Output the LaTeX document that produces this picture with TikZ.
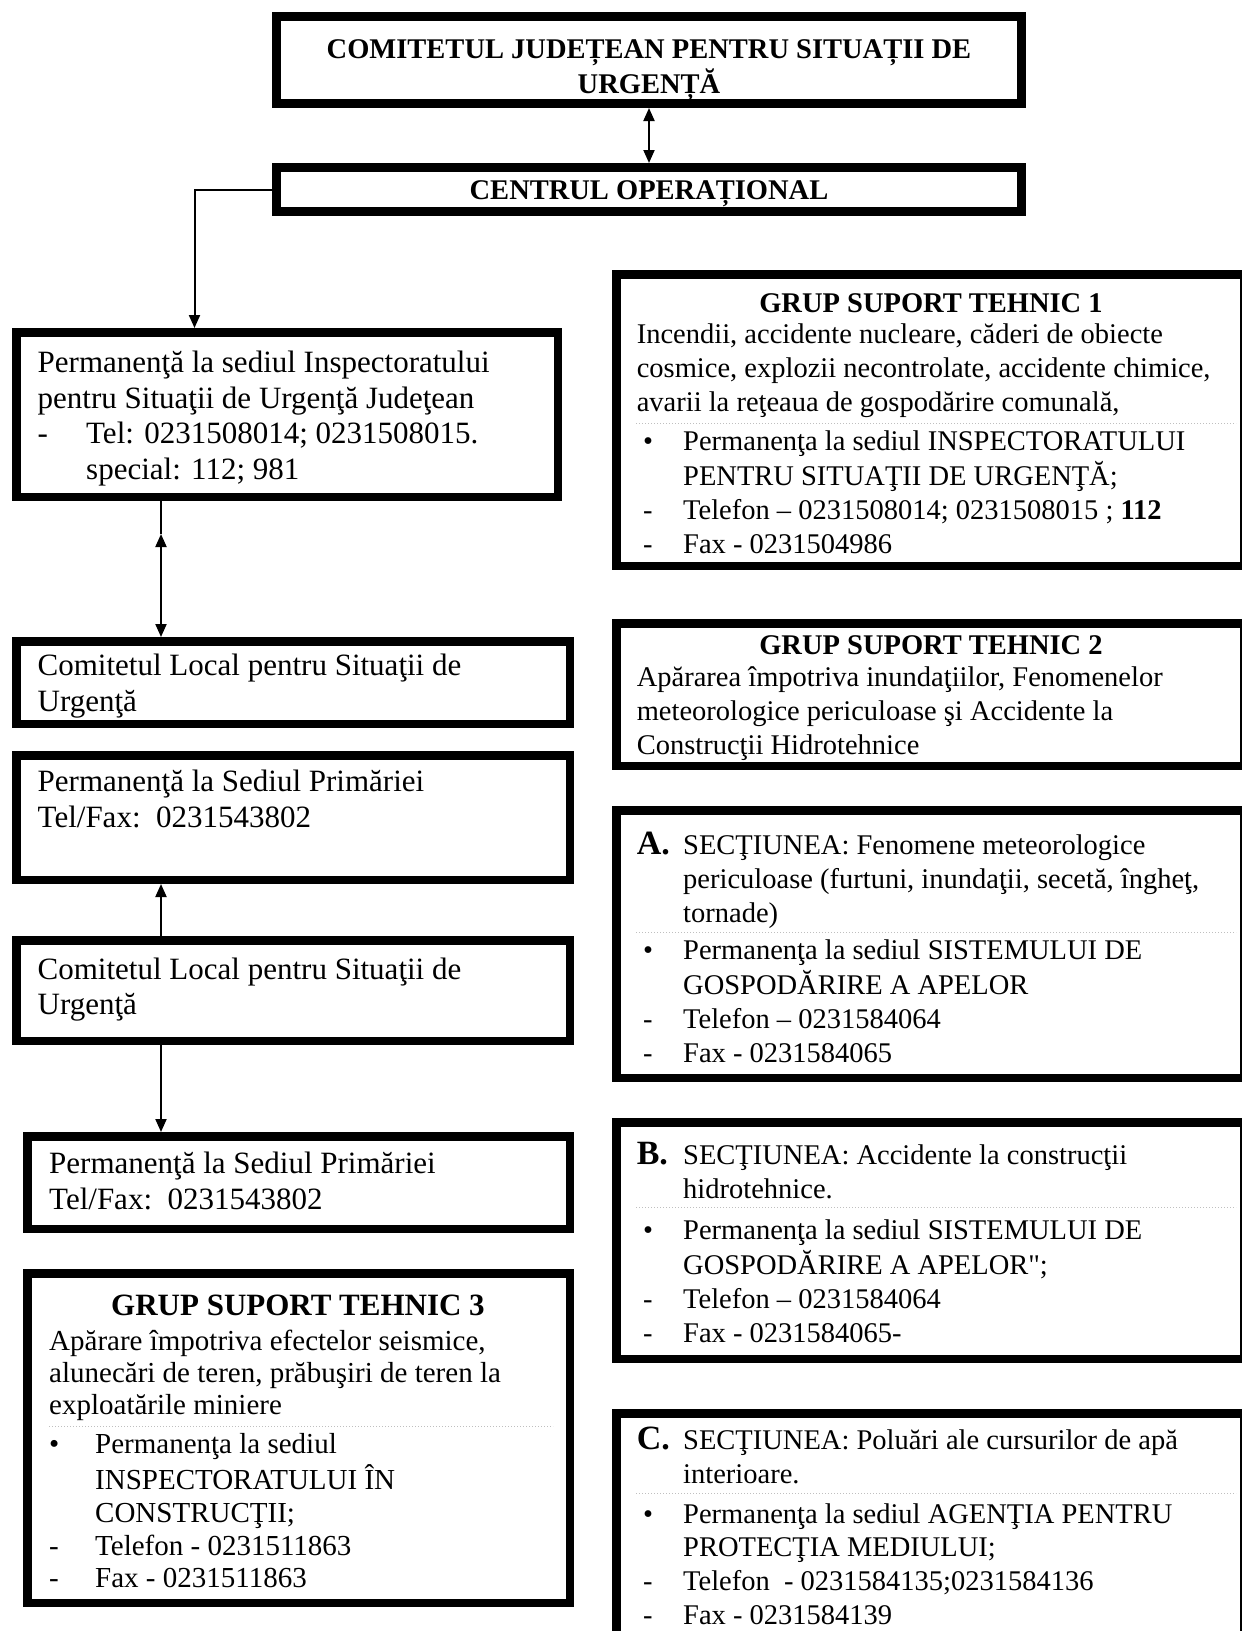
\documentclass[tikz,border=0pt]{standalone}
\usepackage{fontspec}
\setmainfont{Liberation Serif}
\newfontfamily\rawserif{Liberation Serif}
\usetikzlibrary{arrows.meta}
\newcommand\fL{\fontsize{31}{35.7}\selectfont}
\newcommand\fT{\fontsize{28.5}{32}\selectfont}
\newcommand\fR{\fontsize{28.5}{33.8}\selectfont}
\newcommand\fG{\fontsize{29}{32}\selectfont}
\newcommand\fGl{\fontsize{29}{32.75}\selectfont}
\newcommand\fLet{\fontsize{34}{34}\selectfont\bfseries}
\newcommand\lead[2]{\makebox[#1][l]{#2}}
\newcommand\bxat[6][8.5]{\node[bx, line width=#1pt, minimum width={#5-#3-#1}, minimum height={#6-#4-#1}] (#2) at ({(#3+#5)/2},{(#4+#6)/2}) {};}
\tikzset{
  bx/.style={draw=black, fill=none, inner sep=0pt},
  conn/.style={line width=2pt, >={Triangle[length=13pt,width=11pt]}},
  txt/.style={anchor=north west, inner sep=0pt, align=left},
  ttl/.style={anchor=base, inner sep=0pt},
  sep/.style={line width=1pt, draw=black!25, dotted},
}
\begin{document}
\begin{tikzpicture}[x=1pt,y=-1pt]
\useasboundingbox (0,0) rectangle (1242,1631);
\fill[white] (0,0) rectangle (1242,1631);
\clip (0,0) rectangle (1242,1631);

% boxes
\bxat[9]{jud}{272}{12}{1026}{108}
\bxat[9]{co}{272}{163}{1026}{216}
\bxat{l1}{12}{328}{562}{501}
\bxat{l2}{12}{637}{574}{728}
\bxat{l3}{12}{751}{574}{884}
\bxat{l4}{12}{936}{574}{1045}
\bxat{l5}{23}{1132}{574}{1233}
\bxat{g3}{23}{1269}{574}{1607}
\bxat{g1}{612}{270}{1248}{570}
\bxat{g2}{612}{619}{1248}{770}
\bxat{sa}{612}{806}{1248}{1082}
\bxat{sb}{612}{1118}{1248}{1363}
\bxat{sc}{612}{1409}{1248}{1680}

% connectors
\coordinate (cx) at (194.5,0);
\coordinate (lx) at (161,0);
\coordinate (mid) at (161,534);
\draw[conn,<->] (jud.south) -- (co.north);
\draw[conn,->] (co.west) -| (cx |- l1.north);
\draw[conn] (lx |- l1.south) -- (mid);
\draw[conn,<->] (mid) -- (lx |- l2.north);
\draw[conn,->] (lx |- l4.north) -- (lx |- l3.south);
\draw[conn,->] (lx |- l4.south) -- (lx |- l5.north);

% top texts
\node[anchor=north, inner sep=0pt, align=center, font=\fT\bfseries] (judt) at (649,36) {\strut COMITETUL JUDEȚEAN PENTRU SITUAȚII DE\\URGENȚĂ};
\node[ttl, font=\fT\bfseries] (cot) at (649,199.4) {CENTRUL OPERAȚIONAL};

% left texts
\node[txt, font=\fL] (l1t) at (37.5,347.3) {\strut Permanenţă la sediul Inspectoratului\\pentru Situaţii de Urgenţă Judeţean\\\lead{48.5pt}{-}Tel: 0231508014; 0231508015.\\\hspace*{48.5pt}special: 112; 981};
\node[txt, font=\fL] (l2t) at (37.5,650.3) {\strut Comitetul Local pentru Situaţii de\\Urgenţă};
\node[txt, font=\fL] (l3t) at (37.5,766.3) {\strut Permanenţă la Sediul Primăriei\\Tel/Fax:\ \ 0231543802};
\node[txt, font=\fL] (l4t) at (37.5,953.8) {\strut Comitetul Local pentru Situaţii de\\Urgenţă};
\node[txt, font=\fL] (l5t) at (49,1148.3) {\strut Permanenţă la Sediul Primăriei\\Tel/Fax:\ \ 0231543802};

% GST3
\node[ttl, font=\fontsize{31}{35}\selectfont\bfseries] (g3h) at (298,1315.7) {GRUP SUPORT TEHNIC 3};
\node[txt, font=\fG] (g3d) at (49,1328.3) {\strut Apărare împotriva efectelor seismice,\\alunecări de teren, prăbuşiri de teren la\\exploatările miniere};
\draw[sep] (49,1426) -- (553,1426);
\node[txt, font=\fGl] (g3l) at (49,1430.8) {\strut\lead{46pt}{•}Permanenţa la sediul\\\hspace*{46pt}INSPECTORATULUI ÎN\\\hspace*{46pt}CONSTRUCŢII;\\\lead{46pt}{-}Telefon - 0231511863\\\lead{46pt}{-}Fax - 0231511863};

% GST1
\node[ttl, font=\fR\bfseries] (g1h) at (931,312.4) {GRUP SUPORT TEHNIC 1};
\node[txt, font=\fR] (g1d) at (636.6,319.8) {\strut Incendii, accidente nucleare, căderi de obiecte\\cosmice, explozii necontrolate, accidente chimice,\\avarii la reţeaua de gospodărire comunală,};
\draw[sep] (636,423) -- (1236,423);
\node[txt, font=\fR] (g1l) at (643,426.7) {\strut\lead{40pt}{•}Permanenţa la sediul INSPECTORATULUI\\\hspace*{40pt}PENTRU SITUAŢII DE URGENŢĂ;\\\lead{40pt}{-}Telefon – 0231508014; 0231508015 ; \textbf{112}\\\lead{40pt}{-}Fax - 0231504986};

% GST2
\node[ttl, font=\fR\bfseries] (g2h) at (931,654.4) {GRUP SUPORT TEHNIC 2};
\node[txt, font=\fR] (g2d) at (636.6,662.8) {\strut Apărarea împotriva inundaţiilor, Fenomenelor\\meteorologice periculoase şi Accidente la\\Construcţii Hidrotehnice};

% A
\node[anchor=base west, inner sep=0pt, font=\fLet] (sah) at (636.6,854.5) {A.};
\node[txt, font=\fR] (sad) at (683,830.8) {\strut SECŢIUNEA: Fenomene meteorologice\\periculoase (furtuni, inundaţii, secetă, îngheţ,\\tornade)};
\draw[sep] (636,932) -- (1236,932);
\node[txt, font=\fR] (sal) at (643,935.8) {\strut\lead{40pt}{•}Permanenţa la sediul SISTEMULUI DE\\\hspace*{40pt}GOSPODĂRIRE A APELOR\\\lead{40pt}{-}Telefon – 0231584064\\\lead{40pt}{-}Fax - 0231584065};

% B
\node[anchor=base west, inner sep=0pt, font=\fLet] (sbh) at (636.6,1164.5) {B.};
\node[txt, font=\fR] (sbd) at (683,1140.8) {\strut SECŢIUNEA: Accidente la construcţii\\hidrotehnice.};
\draw[sep] (636,1207) -- (1236,1207);
\node[txt, font=\fR] (sbl) at (643,1215.8) {\strut\lead{40pt}{•}Permanenţa la sediul SISTEMULUI DE\\\hspace*{40pt}GOSPODĂRIRE A APELOR{\rawserif"};\\\lead{40pt}{-}Telefon – 0231584064\\\lead{40pt}{-}Fax - 0231584065-};

% C
\node[anchor=base west, inner sep=0pt, font=\fLet] (sch) at (636.6,1449.5) {C.};
\node[txt, font=\fR] (scd) at (683,1425.8) {\strut SECŢIUNEA: Poluări ale cursurilor de apă\\interioare.};
\draw[sep] (636,1493) -- (1236,1493);
\node[txt, font=\fR] (scl) at (643,1499.3) {\strut\lead{40pt}{•}Permanenţa la sediul AGENŢIA PENTRU\\\hspace*{40pt}PROTECŢIA MEDIULUI;\\\lead{40pt}{-}Telefon\ \ - 0231584135;0231584136\\\lead{40pt}{-}Fax - 0231584139};
\end{tikzpicture}
\end{document}
